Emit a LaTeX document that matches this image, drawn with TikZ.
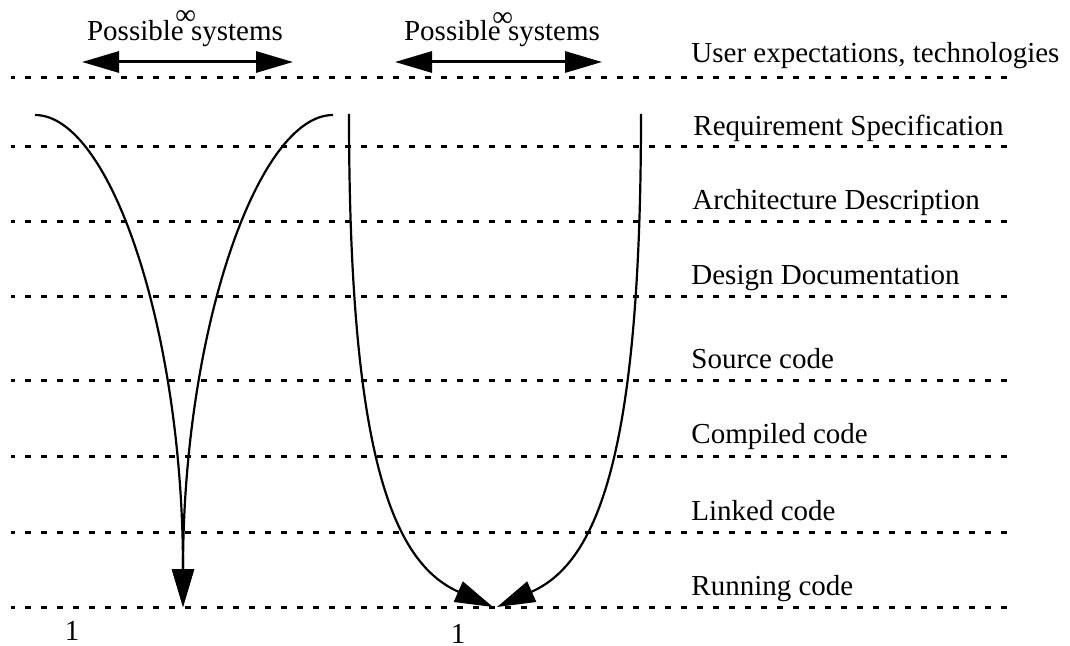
\documentclass[tikz,border=0pt]{standalone}
\usepackage{fontspec}
\setmainfont{Liberation Serif}
\usetikzlibrary{arrows.meta,positioning}

\begin{document}
\begin{tikzpicture}[x=0.5pt,y=-0.5pt,>={Triangle[length=19pt,width=11pt]},
  every node/.style={font=\fontsize{14.5}{17}\selectfont,inner sep=0pt},
  level/.style={line width=1.5pt,dash pattern=on 3pt off 5pt,dash phase=1pt},
  flow/.style={->,line width=1.1pt},
  span/.style={<->,line width=1.5pt,>={Triangle[length=18.5pt,width=10.5pt]}},
  tag/.style={anchor=base west}]
  \useasboundingbox (0,0) rectangle (1070,646);

  % levels
  \draw[level] (11,78) -- (1012,78);
  \draw[level] (11,147) -- (1012,147);
  \draw[level] (11,222) -- (1012,222);
  \draw[level] (11,297) -- (1012,297);
  \draw[level] (11,381) -- (1012,381);
  \draw[level] (11,456) -- (1012,456);
  \draw[level] (11,532) -- (1012,532);
  \draw[level] (11,607) -- (1012,607);

  \node[tag] (user) at (691,63) {User expectations, technologies};
  \node[tag] (req)  at (693,136) {Requirement Specification};
  \node[tag] (arch) at (692,210) {Architecture Description};
  \node[tag] (des)  at (691,285) {Design Documentation};
  \node[tag] (src)  at (691,369) {Source code};
  \node[tag] (comp) at (691,444) {Compiled code};
  \node[tag] (link) at (691,520) {Linked code};
  \node[tag] (run)  at (691,595) {Running code};

  % possible systems
  \node[anchor=base] (ps1) at (185,41)
    {Possible\rlap{\hspace{0.07em}\makebox[0pt]{\raisebox{8pt}{∞}}} systems};
  \node[anchor=base] (ps2) at (502,41)
    {Possible\rlap{\hspace{0.07em}\makebox[0pt]{\raisebox{7pt}{∞}}} systems};
  \coordinate (a1) at (82,62);
  \coordinate (b1) at (293,62);
  \coordinate (a2) at (395,62);
  \coordinate (b2) at (602,62);
  \draw[span] (a1) -- (b1);
  \draw[span] (a2) -- (b2);

  % converging to one system
  \coordinate (vl) at (35,115);
  \coordinate (vr) at (333,115);
  \coordinate (vt) at (183,607);
  \coordinate (ul) at (349,114);
  \coordinate (ur) at (641,114);
  \coordinate (utl) at (493,607);
  \coordinate (utr) at (497,607);

  \draw[flow] (vl) .. controls (110,115) and (183,330) .. (vt);
  \draw[flow] (vr) .. controls (258,115) and (183,330) .. (vt);
  \draw[flow] (ul) .. controls (349,450) and (391,562) .. (utl);
  \draw[flow] (ur) .. controls (641,450) and (599,562) .. (utr);

  \node (one1) at (72,631) {1};
  \node (one2) at (458,634) {1};
\end{tikzpicture}
\end{document}
